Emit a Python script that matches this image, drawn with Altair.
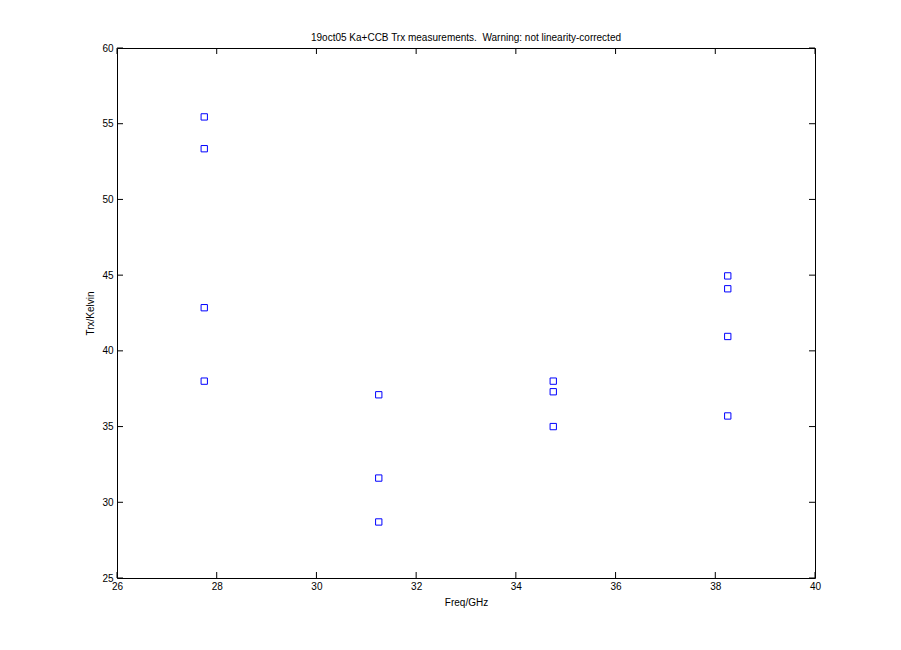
import altair as alt
import pandas as pd

freq = [27.75, 27.75, 27.75, 27.75,
        31.25, 31.25, 31.25,
        34.75, 34.75, 34.75,
        38.25, 38.25, 38.25, 38.25]
trx = [55.45, 53.35, 42.85, 38.0,
       37.1, 31.6, 28.7,
       38.0, 37.3, 35.0,
       44.95, 44.1, 40.95, 35.7]

xticks = [26, 28, 30, 32, 34, 36, 38, 40]
yticks = [25, 30, 35, 40, 45, 50, 55, 60]

W, H = 698, 530
TICK = 6

df = pd.DataFrame({"freq": freq, "trx": trx})
dx = pd.DataFrame({"t": xticks})
dy = pd.DataFrame({"t": yticks})

xs = alt.Scale(domain=[26, 40], nice=False, zero=False)
ys = alt.Scale(domain=[25, 60], nice=False, zero=False)

common = dict(grid=False, domain=False, ticks=False, labelFontSize=10,
              titleFontSize=10, titleFontWeight="normal",
              labelColor="black", titleColor="black", labelFlush=False,
              labelFont="Liberation Sans", titleFont="Liberation Sans")
xaxis = alt.Axis(values=xticks, labelPadding=3, titlePadding=6, **common)
yaxis = alt.Axis(values=yticks, labelPadding=4, titlePadding=6, **common)

points = alt.Chart(df).mark_point(shape="square", filled=False, size=40,
                                  color="#0000ff", strokeWidth=1, opacity=1).encode(
    x=alt.X("freq:Q", scale=xs, axis=xaxis, title="Freq/GHz"),
    y=alt.Y("trx:Q", scale=ys, axis=yaxis, title="Trx/Kelvin"),
)

bt = alt.Chart(dx).mark_rule(color="black", strokeWidth=1).encode(
    x=alt.X("t:Q", scale=xs), y=alt.value(H), y2=alt.value(H - TICK))
tt = alt.Chart(dx).mark_rule(color="black", strokeWidth=1).encode(
    x=alt.X("t:Q", scale=xs), y=alt.value(0), y2=alt.value(TICK))
lt = alt.Chart(dy).mark_rule(color="black", strokeWidth=1).encode(
    y=alt.Y("t:Q", scale=ys), x=alt.value(0), x2=alt.value(TICK))
rt = alt.Chart(dy).mark_rule(color="black", strokeWidth=1).encode(
    y=alt.Y("t:Q", scale=ys), x=alt.value(W), x2=alt.value(W - TICK))

chart = alt.layer(bt, tt, lt, rt, points).properties(
    width=W, height=H,
    title=alt.TitleParams("19oct05 Ka+CCB Trx measurements. \u00a0Warning: not linearity-corrected",
                          fontSize=10, fontWeight="normal", font="Liberation Sans",
                          color="black", offset=0, anchor="middle"),
    autosize=alt.AutoSizeParams(type="none"),
    padding={"left": 109, "top": 40, "right": 78, "bottom": 64},
    background="white",
).configure_view(stroke="black", strokeWidth=1)

chart.save("out.html", embed_options={"renderer": "svg", "actions": False})
